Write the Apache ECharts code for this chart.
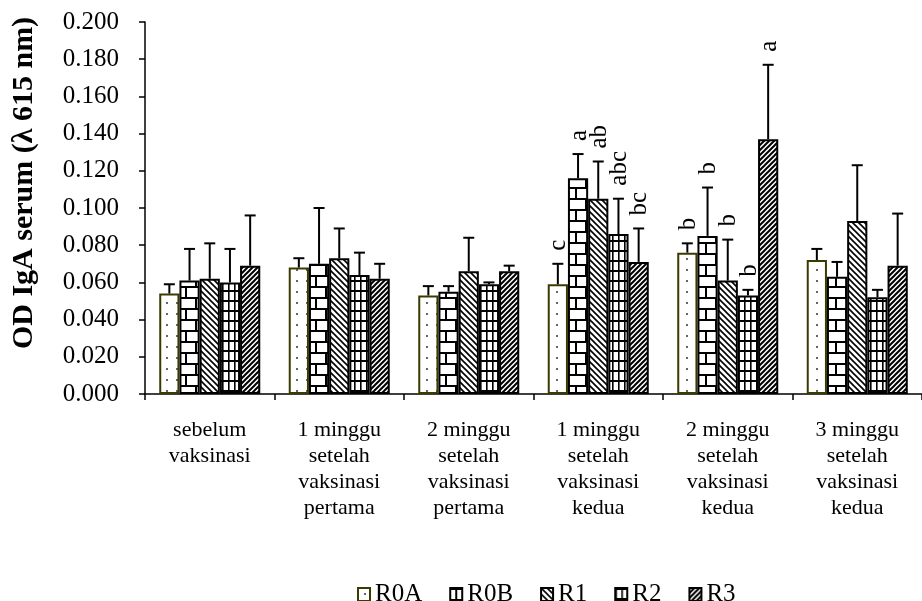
<!DOCTYPE html>
<html>
<head>
<meta charset="utf-8">
<script src="https://cdn.jsdelivr.net/npm/echarts@6/dist/echarts.min.js"></script>
<style>
html,body{margin:0;padding:0;background:#fff;}
#chart{width:922px;height:601px;}
</style>
</head>
<body>
<div id="chart"></div>
<script>
// ---- data ----
const categories = [
  'sebelum\nvaksinasi',
  '1 minggu\nsetelah\nvaksinasi\npertama',
  '2 minggu\nsetelah\nvaksinasi\npertama',
  '1 minggu\nsetelah\nvaksinasi\nkedua',
  '2 minggu\nsetelah\nvaksinasi\nkedua',
  '3 minggu\nsetelah\nvaksinasi\nkedua'
];
const seriesNames = ['R0A', 'R0B', 'R1', 'R2', 'R3'];
const R0A = [0.054, 0.068, 0.053, 0.059, 0.076, 0.072];
const R0B = [0.061, 0.070, 0.055, 0.116, 0.085, 0.063];
const R1  = [0.062, 0.073, 0.066, 0.105, 0.061, 0.093];
const R2  = [0.060, 0.064, 0.059, 0.086, 0.053, 0.052];
const R3  = [0.069, 0.062, 0.066, 0.071, 0.137, 0.069];
const errR0A = [0.005, 0.005, 0.005, 0.011, 0.005, 0.006];
const errR0B = [0.017, 0.030, 0.003, 0.013, 0.026, 0.008];
const errR1  = [0.019, 0.016, 0.018, 0.020, 0.022, 0.030];
const errR2  = [0.018, 0.012, 0.001, 0.019, 0.003, 0.004];
const errR3  = [0.027, 0.008, 0.003, 0.018, 0.040, 0.028];
const lettersR0A = ['', '', '', 'c', 'b', ''];
const lettersR0B = ['', '', '', 'a', 'b', ''];
const lettersR1  = ['', '', '', 'ab', 'b', ''];
const lettersR2  = ['', '', '', 'abc', 'b', ''];
const lettersR3  = ['', '', '', 'bc', 'a', ''];
const yTicks = [0, 0.02, 0.2]; // min, interval, max
const yTitle = 'OD IgA serum (λ 615 nm)';

const values = [R0A, R0B, R1, R2, R3];
const errs = [errR0A, errR0B, errR1, errR2, errR3];
const letters = [lettersR0A, lettersR0B, lettersR1, lettersR2, lettersR3];

// ---- fill patterns ----
function tile(w, h, draw) {
  const c = document.createElement('canvas');
  c.width = w; c.height = h;
  const ctx = c.getContext('2d');
  ctx.fillStyle = '#fff';
  ctx.fillRect(0, 0, w, h);
  draw(ctx, w, h);
  return { image: c, repeat: 'repeat' };
}
const patterns = [
  tile(10, 11, (ctx) => { ctx.fillStyle = '#666'; ctx.fillRect(6, 5, 2, 2); }),
  tile(20, 22, (ctx) => {
    ctx.fillStyle = '#000';
    ctx.fillRect(0, 0, 20, 2);
    ctx.fillRect(0, 11, 20, 2);
    ctx.fillRect(5, 0, 2, 11);
    ctx.fillRect(15, 11, 2, 11);
  }),
  tile(6, 6, (ctx) => {
    ctx.strokeStyle = '#000'; ctx.lineWidth = 1.6;
    ctx.beginPath();
    ctx.moveTo(-1, -1); ctx.lineTo(7, 7);
    ctx.moveTo(-1, 5); ctx.lineTo(1, 7);
    ctx.moveTo(5, -1); ctx.lineTo(7, 1);
    ctx.stroke();
  }),
  tile(6, 10, (ctx) => {
    ctx.fillStyle = '#000';
    ctx.fillRect(0, 0, 6, 2);
    ctx.fillRect(0, 0, 1.6, 10);
  }),
  tile(5, 5, (ctx) => {
    ctx.strokeStyle = '#000'; ctx.lineWidth = 2;
    ctx.beginPath();
    ctx.moveTo(-1, 6); ctx.lineTo(6, -1);
    ctx.moveTo(-1, 1); ctx.lineTo(1, -1);
    ctx.moveTo(4, 6); ctx.lineTo(6, 4);
    ctx.stroke();
  })
];
const borderColors = ['#3b3b00', '#000', '#000', '#000', '#000'];

const FONT = '"Liberation Serif", "Times New Roman", serif';
const gapRatio = 0.22;

const barSeries = seriesNames.map((name, i) => ({
  name: name,
  type: 'bar',
  barGap: '0%',
  barCategoryGap: (gapRatio * 100) + '%',
  data: values[i],
  itemStyle: { color: patterns[i], borderColor: borderColors[i], borderWidth: 2 },
  emphasis: { disabled: true },
  z: 2
}));

const errData = [];
seriesNames.forEach((n, s) => {
  categories.forEach((c, ci) => {
    errData.push([ci, s, values[s][ci], errs[s][ci]]);
  });
});

const errSeries = {
  type: 'custom',
  name: 'err',
  coordinateSystem: 'cartesian2d',
  encode: { x: 0, y: 2 },
  data: errData,
  z: 5,
  silent: true,
  clip: false,
  renderItem: function (params, api) {
    const ci = api.value(0), s = api.value(1), v = api.value(2), e = api.value(3);
    const catW = api.size([1, 0])[0];
    const n = seriesNames.length;
    const bw = catW * (1 - gapRatio) / n;
    const center = api.coord([ci, 0])[0];
    const x = center - bw * n / 2 + (s + 0.5) * bw;
    const yTop = api.coord([ci, v])[1];
    const yErr = api.coord([ci, v + e])[1];
    const st = { stroke: '#000', lineWidth: 2 };
    const children = [
      { type: 'line', shape: { x1: x, y1: yTop, x2: x, y2: yErr }, style: st },
      { type: 'line', shape: { x1: x - 5.5, y1: yErr, x2: x + 5.5, y2: yErr }, style: st }
    ];
    const lt = letters[s][ci];
    if (lt) {
      children.push({
        type: 'text',
        x: x + 1, y: yErr - 13,
        rotation: Math.PI / 2,
        style: { text: lt, fill: '#000', font: '25px ' + FONT, align: 'left', verticalAlign: 'middle' }
      });
    }
    return { type: 'group', children: children };
  }
};

const chart = echarts.init(document.getElementById('chart'), null, { renderer: 'canvas' });
chart.setOption({
  animation: false,
  backgroundColor: '#fff',
  textStyle: { fontFamily: FONT, color: '#000' },
  grid: { left: 145, top: 22, width: 786, bottom: 207 },
  legend: {
    data: seriesNames,
    top: 577,
    left: 352,
    itemWidth: 12,
    itemHeight: 13,
    itemGap: 27,
    icon: 'rect',
    textStyle: { fontFamily: FONT, fontSize: 25, color: '#000' },
    selectedMode: false
  },
  xAxis: {
    type: 'category',
    data: categories,
    axisLine: { lineStyle: { color: '#000', width: 1.5 } },
    axisTick: { show: true, length: 6, lineStyle: { color: '#000', width: 1.5 } },
    axisLabel: { interval: 0, margin: 23, fontFamily: FONT, fontSize: 22, lineHeight: 26, color: '#000' }
  },
  yAxis: {
    type: 'value',
    min: yTicks[0], interval: yTicks[1], max: yTicks[2],
    axisLine: { show: true, lineStyle: { color: '#000', width: 1.5 } },
    axisTick: { show: true, length: 6, lineStyle: { color: '#000', width: 1.5 } },
    splitLine: { show: false },
    axisLabel: { margin: 26, fontFamily: FONT, fontSize: 25, color: '#000', formatter: v => v.toFixed(3) }
  },
  graphic: [{
    type: 'text',
    x: 24, y: 183,
    rotation: Math.PI / 2,
    style: { text: yTitle, font: 'bold 30px ' + FONT, fill: '#000', align: 'center', verticalAlign: 'middle' }
  }],
  series: barSeries.concat([errSeries])
});
</script>
</body>
</html>
